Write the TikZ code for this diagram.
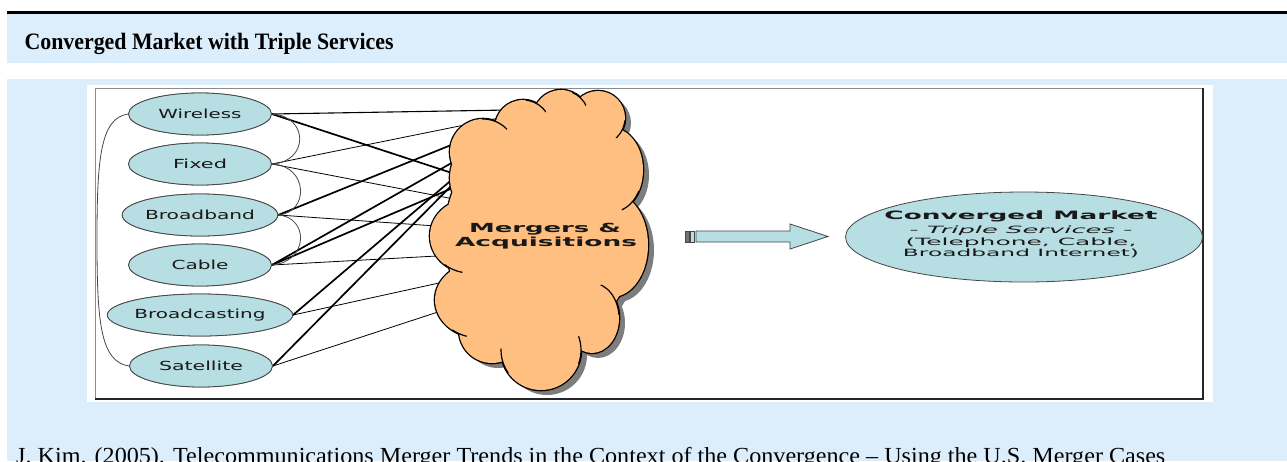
\documentclass[tikz,border=0pt]{standalone}
\usepackage{fontspec}
\setmainfont{Liberation Serif}
\newfontfamily\vsans{DejaVu Sans}
\usetikzlibrary{shapes.geometric}
\definecolor{bandblue}{RGB}{220,238,252}
\definecolor{nodeteal}{RGB}{183,222,226}
\definecolor{cloudorange}{RGB}{255,191,128}
\definecolor{shadowgray}{RGB}{125,125,125}
\definecolor{edgegray}{RGB}{70,70,70}
\newcommand{\fitw}[2]{\resizebox{#1}{\height}{#2}}
% tick: continuation of a cloud lobe outline near a notch
\newcommand{\cloudtick}[7]{%
  \begin{scope}\clip (#5,#6) circle [radius=#7];
  \draw[cloudln] (#1,#2) ellipse [x radius=#3, y radius=#4];\end{scope}}
\tikzset{
  svc/.style={ellipse, draw=edgegray, line width=0.8pt, fill=nodeteal,
    minimum width=143pt, minimum height=42pt, inner sep=0pt,
    text=black!90, font=\vsans\fontsize{12.5}{14}\selectfont},
  thickln/.style={line width=1.7pt, black},
  thinln/.style={line width=0.8pt, black},
  medln/.style={line width=1.1pt, black},
  arcln/.style={line width=0.8pt, edgegray},
  cloudln/.style={line width=1.2pt, black},
  cmtext/.style={anchor=base, text=black!90},
}
\begin{document}
\begin{tikzpicture}[x=1pt,y=-1pt]
\useasboundingbox (0,0) rectangle (1287,461);
% backgrounds
\fill[white] (0,0) rectangle (1287,461);
\fill[black] (7,10.5) rectangle (1287,14);
\fill[bandblue] (7,14) rectangle (1287,63);
\fill[bandblue] (7,79) rectangle (1287,461);
\fill[white] (87,85) rectangle (1213,402);
\draw[black!45, line width=1pt] (95,399) -- (95,88) -- (1203,88);
\draw[black!85, line width=1.2pt] (1203,88) -- (1203,399) -- (95,399);

\node[anchor=base west, font=\bfseries\fontsize{23.5}{26}\selectfont] (title) at (21,49)
  {\fitw{369pt}{Converged Market with Triple Services}};

% cloud anchor points
\coordinate (c1) at (508,110);
\coordinate (c2) at (504,117);
\coordinate (c3) at (461,141);
\coordinate (c4) at (455,161);
\coordinate (c5) at (455,177);
\coordinate (c6) at (455,174);
\coordinate (c7) at (455,182);
\coordinate (c8) at (454,199);
\coordinate (c9) at (436,226);
\coordinate (c10) at (437,256);
\coordinate (c11) at (439,283);
\coordinate (c12) at (441,311);
\coordinate (c13) at (455,187);

% service nodes (positions)
\path (200,114) coordinate (pW) (200,164) coordinate (pF) (200,215) coordinate (pB)
      (200,265) coordinate (pC) (200,315) coordinate (pBc) (201,366) coordinate (pS);
\node[svc] (W) at (pW) {\fitw{83pt}{Wireless}};
\node[svc] (F) at (pF) {\fitw{54pt}{Fixed}};
\node[svc] (B) at (pB) {\fitw{110pt}{Broadband}};
\node[svc] (C) at (pC) {\fitw{57pt}{Cable}};
\node[svc] (Bc) at (pBc) {\fitw{131pt}{Broadcasting}};
\node[svc] (S) at (pS) {\fitw{84pt}{Satellite}};

% connectors
\draw[medln] (W.east) -- (c1);
\draw[thickln] (W.east) -- (c6);
\draw[thinln] (F.east) -- (c2);
\draw[thinln] (F.east) -- (c8);
\draw[thickln] (B.east) -- (c3);
\draw[thinln] (B.east) -- (c9);
\draw[thickln] (C.east) -- (c4);
\draw[thickln] (C.east) -- (c13);
\draw[thinln] (C.east) -- (c10);
\draw[thickln] (Bc.east) -- (c5);
\draw[thinln] (Bc.east) -- (c11);
\draw[thickln] (S.east) -- (c7);
\draw[thinln] (S.east) -- (c12);

% arcs between services
\draw[arcln] (W.west) .. controls (100,118) and (97,160) .. (97,240)
  .. controls (97,320) and (100,362) .. (S.west);
\draw[arcln] (W.east) .. controls (309,116) and (309,162) .. (F.east);
\draw[arcln] (F.east) .. controls (309,166) and (309,213) .. (B.east);
\draw[arcln] (B.east) .. controls (309,217) and (309,262) .. (C.east);

% redraw nodes on top of line starts
\node[svc] at (pW) {\fitw{83pt}{Wireless}};
\node[svc] at (pF) {\fitw{54pt}{Fixed}};
\node[svc] at (pB) {\fitw{110pt}{Broadband}};
\node[svc] at (pC) {\fitw{57pt}{Cable}};
\node[svc] at (pBc) {\fitw{131pt}{Broadcasting}};
\node[svc] at (pS) {\fitw{84pt}{Satellite}};

% cloud
\def\cloudlist{483/152/33/33, 523/128/28/28, 561/118/28/28, 598/118/27/27,
  612/170/31/42, 612/245/36/52, 540/235/95/110, 470/236/40/37, 470/178/20/30,
  480/300/45/38, 492/330/33/33, 541/350/40/40, 592/318/27/35}
\fill[shadowgray, shift={(6,5)}] \foreach \cx/\cy/\rx/\ry in \cloudlist
  { (\cx,\cy) ellipse [x radius=\rx, y radius=\ry] };
\draw[black, line width=2.6pt] \foreach \cx/\cy/\rx/\ry in \cloudlist
  { (\cx,\cy) ellipse [x radius=\rx, y radius=\ry] };
\fill[cloudorange] \foreach \cx/\cy/\rx/\ry in \cloudlist
  { (\cx,\cy) ellipse [x radius=\rx, y radius=\ry] };
\cloudtick{483}{152}{33}{33}{495.6}{121.6}{14}
\cloudtick{523}{128}{28}{28}{537}{104}{12}
\cloudtick{561}{118}{28}{28}{580.2}{97.7}{10}
\cloudtick{598}{118}{27}{27}{622}{130}{10}
\cloudtick{612}{170}{31}{42}{632}{202}{13}
\cloudtick{592}{318}{27}{35}{613.8}{297.4}{18}
\cloudtick{541}{350}{40}{40}{502.6}{361.3}{13}
\cloudtick{541}{350}{40}{40}{581}{350}{14}
\cloudtick{480}{300}{45}{38}{459.2}{333.7}{8}
\cloudtick{470}{236}{40}{37}{453}{269.5}{10}

\node[anchor=base, font=\vsans\bfseries\fontsize{12.5}{14}\selectfont, text=black!90] (ma1) at (545,232)
  {\fitw{152pt}{Mergers \&}};
\node[anchor=base, font=\vsans\bfseries\fontsize{12.5}{14}\selectfont, text=black!90] (ma2) at (546,246)
  {\fitw{182pt}{Acquisitions}};

% block arrow
\filldraw[fill=black!55, draw=edgegray, line width=0.6pt] (685,231) rectangle (689,242);
\filldraw[fill=nodeteal, draw=edgegray, line width=0.6pt] (690,231) rectangle (694,242);
\filldraw[fill=nodeteal, draw=edgegray, line width=0.8pt]
  (696,231) -- (790,231) -- (790,224) -- (828,236.5) -- (790,249) -- (790,242) -- (696,242) -- cycle;

% converged market
\node[ellipse, draw=edgegray, line width=0.8pt, fill=nodeteal, minimum width=357pt,
  minimum height=90pt, inner sep=0pt] (CM) at (1024,237) {};
\node[cmtext, font=\vsans\bfseries\fontsize{11.5}{13}\selectfont] (cm1) at (1021,219)
  {\fitw{273pt}{Converged Market}};
\node[cmtext, font=\vsans\itshape\fontsize{10}{12}\selectfont] (cm2) at (1021,233)
  {\fitw{223pt}{- Triple Services -}};
\node[cmtext, font=\vsans\fontsize{10}{12}\selectfont] (cm3) at (1021,245)
  {\fitw{231pt}{(Telephone, Cable,}};
\node[cmtext, font=\vsans\fontsize{10}{12}\selectfont] (cm4) at (1021,256.5)
  {\fitw{236pt}{Broadband Internet)}};

% citation (cut off at the bottom edge, as in the reference)
\node[anchor=base west, font=\fontsize{23}{25}\selectfont, inner sep=0pt] (cite) at (16,463)
  {\fitw{1149pt}{J. Kim. (2005). Telecommunications Merger Trends in the Context of the Convergence -- Using the U.S. Merger Cases}};
\end{tikzpicture}
\end{document}
